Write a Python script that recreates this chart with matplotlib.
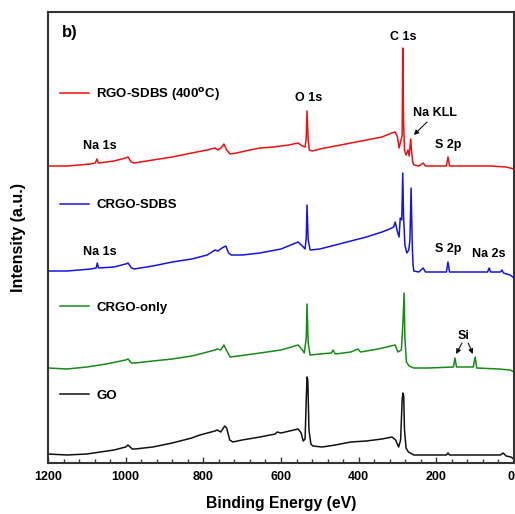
import numpy as np
import matplotlib.pyplot as plt
from matplotlib.legend import Legend

plt.rcParams['font.family'] = ['Liberation Sans', 'DejaVu Sans']
plt.rcParams['font.weight'] = 'bold'

# spectra: binding energy (eV), intensity (a.u., stacked)
e_red = [1200, 1150, 1090, 1078, 1074, 1070, 1030, 1000, 994, 986, 978, 930, 880, 830, 790,
         770, 762, 752, 747, 740, 731, 715, 680, 654, 620, 580, 556, 545, 538, 535, 533, 530,
         527, 520, 500, 460, 420, 380, 340, 315, 306, 300, 296, 291, 288, 286.5, 284.5, 282,
         278, 273, 270, 266, 264, 261, 258, 245, 234, 228, 200, 174, 170, 166, 120, 60, 20, 0]
i_red = [297, 297, 299, 300, 304, 300, 302, 305, 306, 301, 300, 303, 306, 310, 313,
         315, 313, 316, 319, 313, 309, 310, 313, 315, 316, 318, 320, 317, 316, 325, 352, 323,
         313, 312, 314, 317, 320, 323, 326, 330, 331, 326, 315, 323, 328, 415, 343, 313,
         308, 313, 307, 324, 313, 301, 298, 297, 300, 297, 297, 297, 306, 297, 297, 297, 296, 294]

e_blue = [1200, 1150, 1090, 1076, 1073, 1070, 1030, 1000, 994, 985, 978, 930, 880, 830, 790,
          770, 762, 752, 742, 735, 728, 700, 654, 600, 556, 545, 538, 535, 533, 530, 525, 500,
          460, 420, 380, 340, 320, 310, 306, 300, 296, 293, 289, 286.5, 284.5, 281, 276, 271,
          268, 265, 262, 260, 258, 245, 234, 228, 200, 174, 170, 166, 120, 68, 64, 60, 35, 31,
          27, 10, 0]
i_blue = [192, 192, 194, 195, 200, 195, 196, 199, 200, 195, 194, 197, 201, 204, 208,
          213, 212, 215, 217, 210, 208, 208, 210, 214, 221, 217, 214, 225, 258, 223, 213, 214,
          218, 222, 226, 231, 234, 236, 241, 231, 226, 245, 243, 290, 248, 218, 210, 213,
          223, 275, 218, 198, 192, 191, 195, 191, 191, 191, 201, 191, 191, 191, 195, 191, 191, 193,
          190, 188, 185]

e_green = [1200, 1151, 1100, 1050, 1000, 994, 985, 976, 930, 880, 830, 809, 770, 765, 755,
           747, 738, 731, 710, 654, 600, 556, 545, 540, 535, 533, 530, 525, 500, 470, 466, 460,
           420, 402, 395, 350, 306, 299, 290, 286, 283, 281, 277, 270, 258, 220, 156, 152, 148,
           105, 100, 96, 40, 10, 0]
i_green = [95, 94, 96, 99, 103, 104, 100, 100, 102, 104, 107, 109, 113, 114, 113,
           118, 111, 106, 107, 110, 113, 118, 113, 110, 125, 159, 120, 108, 109, 110, 113, 109,
           111, 114, 111, 114, 118, 111, 113, 140, 170, 125, 101, 97, 95, 95, 96, 105, 96,
           96, 106, 95, 94, 93, 91]

e_black = [1200, 1151, 1100, 1030, 1000, 994, 983, 976, 930, 880, 830, 809, 770, 765, 755,
           745, 740, 732, 724, 700, 654, 615, 610, 600, 556, 548, 543, 538, 535, 533, 531, 528,
           523, 518, 494, 460, 420, 380, 340, 314, 305, 297, 292, 288, 286, 284, 282, 278, 272,
           258, 200, 174, 170, 166, 100, 35, 28, 20, 8, 0]
i_black = [9, 8, 9, 13, 16, 18, 14, 14, 16, 20, 25, 28, 32, 33, 31,
           37, 35, 23, 21, 23, 26, 29, 31, 30, 34, 30, 22, 24, 63, 86, 83, 33,
           19, 17, 16, 18, 21, 22, 24, 26, 23, 16, 23, 63, 70, 67, 33, 15, 11,
           8, 8, 8, 10, 8, 8, 8, 10, 7, 6, 4]

series = [
    ('RGO-SDBS (400$^{\\rm o}$C)', e_red, i_red, '#f01010', 0.818),
    ('CRGO-SDBS', e_blue, i_blue, '#1515e0', 0.572),
    ('CRGO-only', e_green, i_green, '#178a17', 0.344),
    ('GO', e_black, i_black, '#111111', 0.149),
]

fig = plt.figure(figsize=(5.15, 5.14), dpi=100)
ax = fig.add_axes([48 / 515, 51 / 514, 466 / 515, 451 / 514])

for name, e, inten, col, ly in series:
    line, = ax.plot(e, inten, color=col, lw=1.1)
    leg = Legend(ax, [line], [name], loc='center left', bbox_to_anchor=(0.026, ly),
                 frameon=False, borderpad=0, borderaxespad=0, handlelength=2.2,
                 handletextpad=0.55, prop={'size': 9.5, 'weight': 'bold'})
    ax.add_artist(leg)

ax.set_xlim(1200, 0)
ax.set_ylim(0, 451)
ax.set_xticks(np.arange(0, 1201, 200))
ax.set_xticks(np.arange(0, 1201, 40), minor=True)
ax.set_yticks([])
ax.tick_params(axis='x', which='both', direction='in', labelsize=9, pad=6, color='#333333')
ax.tick_params(axis='x', which='major', length=4, width=1)
ax.tick_params(axis='x', which='minor', length=3, width=1)
for lab in ax.get_xticklabels():
    lab.set_fontweight('bold')
# the last label sits on the right edge; keep it inside the picture
ax.get_xticklabels()[0].set_ha('right')
for sp in ax.spines.values():
    sp.set_linewidth(1.5)
    sp.set_color('#333333')

ax.set_xlabel('Binding Energy (eV)', fontsize=11.3, fontweight='bold', labelpad=9)
ax.set_ylabel('Intensity (a.u.)', fontsize=11.5, fontweight='bold', labelpad=16)

ax.text(1164, 431, 'b)', fontsize=12, fontweight='bold', va='center', ha='left')

labels = [('Na 1s', 1066, 317), ('Na 1s', 1066, 211), ('O 1s', 528, 365), ('C 1s', 286, 426),
          ('Na KLL', 203, 350), ('S 2p', 170, 318), ('S 2p', 170, 214), ('Na 2s', 64, 209),
          ('Si', 129, 127)]
for txt, x, y in labels:
    ax.text(x, y, txt, fontsize=9, fontweight='bold', ha='center', va='center')

arrows = [((224, 341), (258, 328)), ((134, 120), (149, 109)), ((118, 120), (106, 109))]
for (x0, y0), (x1, y1) in arrows:
    ax.annotate('', xy=(x1, y1), xytext=(x0, y0),
                arrowprops=dict(arrowstyle='-|>', color='#111111', lw=0.8,
                                mutation_scale=7, shrinkA=0, shrinkB=0))

plt.savefig('out.png', dpi=100)
